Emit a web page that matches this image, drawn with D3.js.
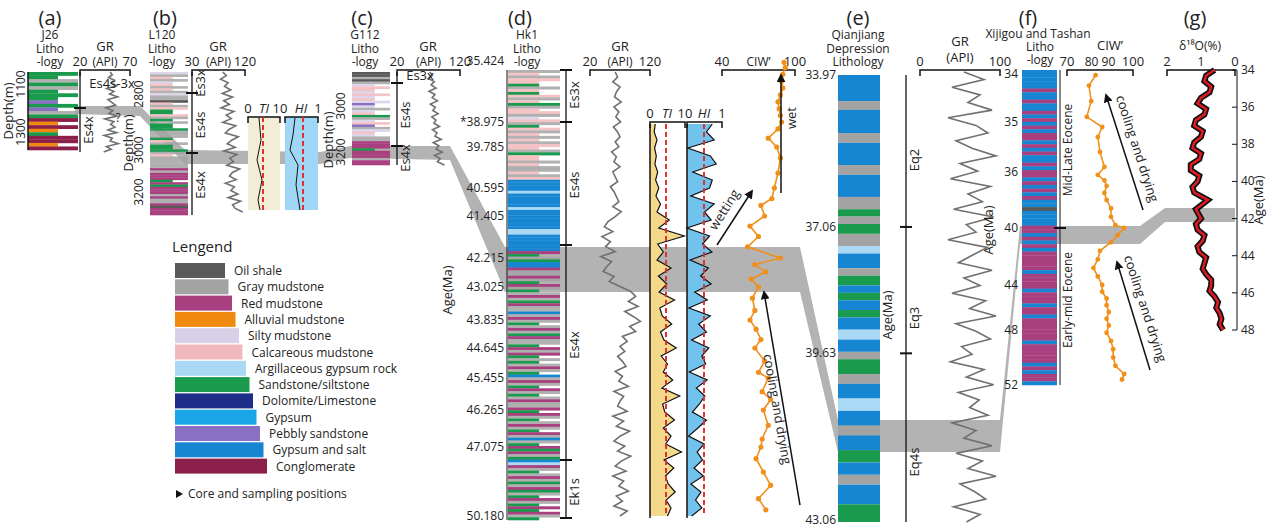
<!DOCTYPE html><html><head><meta charset="utf-8">
<script src="https://cdn.jsdelivr.net/npm/d3@7"></script>
<style>body{margin:0;background:#fff}text{font-family:"Open Sans","DejaVu Sans",sans-serif;fill:#222}</style></head><body>
<svg id="c" width="1269" height="530"></svg>
<script>
// ---------- DATA ----------
const lithoNames=["Oil shale","Gray mudstone","Red mudstone","Alluvial mudstone","Silty mudstone","Calcareous mudstone","Argillaceous gypsum rock","Sandstone/siltstone","Dolomite/Limestone","Gypsum","Pebbly sandstone","Gypsum and salt","Conglomerate"];
const lithoColors=["#595959","#a3a3a3","#a8407f","#f0890f","#d8d0e8","#f2b8bb","#a9d9f5","#1a9a4c","#1f2d8a","#1aa5e8","#8a70c2","#1786d2","#8c1f4a"];
const lithoA="77171777a7a17c3c37cc3c";
const lithoB="4151451514110515775171777111751777151111121222727222121120222";
const lithoC="0010145545454a41457145a1454112227222122";
const lithoD="1515571575157155145175151515517551511515bbbb6bbbbb6bbbbbbb66bbbbbb2717bb2112172171217211b1217121721172127171217b1217217121127217121721b1727217b621712171271721727217";
const lithoE=[[33.97,34.5,11],[34.5,34.68,1],[34.68,35.15,11],[35.15,35.35,1],[35.35,35.8,11],[35.8,36.0,1],[36.0,36.45,11],[36.45,36.7,1],[36.7,36.85,7],[36.85,37.0,1],[37.0,37.2,7],[37.2,37.45,1],[37.45,37.6,6],[37.6,37.9,11],[37.9,38.05,1],[38.05,38.25,7],[38.25,38.4,11],[38.4,38.55,7],[38.55,38.75,11],[38.75,38.9,7],[38.9,39.15,11],[39.15,39.35,6],[39.35,39.6,11],[39.6,39.75,1],[39.75,40.05,7],[40.05,40.25,1],[40.25,40.55,11],[40.55,40.8,6],[40.8,41.1,11],[41.1,41.3,1],[41.3,41.6,11],[41.6,41.85,7],[41.85,42.1,11],[42.1,42.3,1],[42.3,42.7,11],[42.7,43.06,7]];
const lithoF="bbbbb2bb2bb2b2b2b22b2b2bb2b22b2b2b2bb0bbbb22b2b2b22222b2222b222b22b222222b22222b2b22b";
const dAgeTicks=["35.424","*38.975","39.785","40.595","41.405","42.215","43.025","43.835","44.645","45.455","46.265","47.075","50.180"];
const eAgeTicks=["33.97","37.06","39.63","43.06"];
const fAgeTicks=[34,35,36,40,44,48,52];
const gAgeTicks=[34,36,38,40,42,44,46,48];
const grA=[48,52,45,56,50,60,42,55,47,62,44,51,58,40,53,46,61,38,55,49,57,44,60,37,52,48,63,41,50,36];
const grB=[70,78,65,82,74,88,69,92,72,85,66,95,78,89,70,99,84,76,105,90,80,98,72,102,86,94,79,108,92,85,100,76,96,88,104,82,110,92,98,115];
const grC=[62,70,58,75,66,80,60,77,69,84,64,78,71,86,68,80,74,90,70,83,77,95,72,88,80,98,76,92,84,104];
const grD=[62,66,58,70,64,61,72,60,68,63,71,59,66,70,62,68,56,64,60,70,58,62,66,54,60,64,68,58,72,62,50,44,58,40,54,46,62,38,56,48,42,60,52,70,88,96,84,100,78,92,104,86,96,74,82,70,78,66,74,80,62,74,68,84,60,76,70,66,82,58,76,64,86,70,60,78,66,88,72,62,80,58,76,68,84,64,74,60,82,70];
const grE=[55,80,40,75,60,90,35,70,85,45,65,95,50,72,38,88,60,78,42,92,58,70,35,84,66,48,90,55,75,40,82,62,95,45,70,88,52,65,38,80,58,92,48,74,62,85,40,70,55,90,45,78,60,95,50,68,82,42,75,58];
const tiD=[1.5,1.2,2.0,1.3,1.8,1.4,2.2,1.6,2.5,1.7,3.0,2.0,5.5,2.5,9.8,2.2,3.8,2.0,6.0,2.4,4.8,2.6,7.0,2.8,3.5,6.2,3.0,4.0,7.5,3.2,5.0,3.8,6.5,3.4,8.5,3.6,4.2,7.0,3.8,6.0,4.5,9.0,4.0,6.8,4.4,5.2,7.2,4.6,6.0,5.0];
const hiD=[3.5,5.0,3.0,9.8,4.0,2.5,8.5,3.5,4.2,9.0,3.0,5.5,3.8,10,4.2,6.0,3.6,9.2,4.5,6.5,3.8,8.0,4.8,9.5,4.0,7.0,5.0,8.8,4.4,6.2,5.2,9.4,4.8,7.6,5.4,6.8,8.6,5.0,7.2,9.6,5.6,7.4,6.0,8.2,5.8,9.0,6.4,7.8,6.2,8.8];
const ciwD=[[35.5,91],[35.8,92],[36.2,90],[36.6,89],[37.0,90],[37.4,88],[37.8,86],[38.2,87],[38.6,88],[38.975,89],[39.2,86],[39.5,78],[39.785,85],[40.0,88],[40.3,86],[40.595,83],[40.9,81],[41.1,72],[41.405,75],[41.6,63],[41.8,70],[42.0,61],[42.215,88],[42.4,67],[42.6,76],[42.8,64],[43.025,70],[43.3,65],[43.6,67],[43.835,63],[44.1,68],[44.4,72],[44.645,67],[45.0,75],[45.3,70],[45.455,78],[45.8,73],[46.0,80],[46.265,74],[46.6,78],[46.9,73],[47.075,72],[47.6,68],[48.2,74],[48.8,80],[49.4,70],[49.9,76]];
const ciwF=[[34.1,83],[34.3,80],[34.6,81],[34.9,79],[35.1,86],[35.3,84],[35.6,85],[35.9,87],[36.2,84],[36.6,87],[37.0,88],[37.5,87],[38.0,88],[38.6,90],[39.2,90],[39.8,92],[40.0,96],[40.5,93],[41.0,90],[41.6,85],[42.2,84],[42.8,82],[43.4,84],[44.0,86],[44.6,86],[45.2,88],[45.8,88],[46.4,89],[47.0,88],[47.6,89],[48.2,88],[48.8,90],[49.4,91],[50.0,91],[50.6,92],[51.2,96],[51.6,95]];
const d18O=[[34,0.6],[34.3,0.85],[34.6,0.9],[34.9,0.7],[35.2,0.75],[35.5,1.0],[35.8,1.1],[36.1,0.85],[36.4,0.9],[36.7,1.15],[37.0,1.2],[37.3,0.95],[37.6,1.0],[37.9,1.2],[38.2,1.25],[38.5,1.0],[38.8,1.05],[39.1,1.3],[39.4,1.3],[39.7,1.05],[40.0,1.1],[40.3,1.25],[40.6,1.2],[41.0,0.8],[41.5,1.15],[42.0,1.0],[42.3,1.15],[42.6,1.1],[42.9,0.9],[43.2,0.95],[43.5,1.1],[43.8,1.05],[44.1,0.85],[44.4,0.9],[44.7,0.95],[45.0,0.85],[45.3,0.7],[45.6,0.7],[45.9,0.75],[46.2,0.6],[46.5,0.5],[46.8,0.55],[47.1,0.45],[47.4,0.4],[47.7,0.45],[48,0.35]];

// ---------- DRAW ----------
const svg=d3.select("#c");
svg.append("defs").append("marker").attr("id","ah").attr("viewBox","0 0 10 10").attr("refX",8).attr("refY",5).attr("markerWidth",6).attr("markerHeight",6).attr("orient","auto").append("path").attr("d","M0,0L10,5L0,10Z").attr("fill","#111");
const T=(x,y,s,o={})=>{const t=svg.append("text").attr("x",x).attr("y",y).text(s).attr("font-size",o.fs||12).attr("text-anchor",o.a||"middle");if(o.r)t.attr("transform",`rotate(${o.r},${x},${y})`);if(o.it)t.attr("font-style","italic");return t;};
const code=c=>parseInt(c,16);
function litho(str,x0,x1,y0,y1,full){
  const y=d3.scaleLinear().domain([0,str.length]).range([y0,y1]);
  [...str].forEach((c,i)=>{const k=code(c);const w=(full||[11,9,6,2,12,0,1].includes(k)||i%3==0)?x1-x0:(x1-x0)*0.6;
    svg.append("rect").attr("x",x0).attr("y",y(i)).attr("width",w).attr("height",y(i+1)-y(i)+0.3).attr("fill",lithoColors[k]).attr("opacity",(k==1||k==5||k==4)?0.85:1);});
}
function gr(vals,x0,x1,d0,d1,y0,y1){
  const x=d3.scaleLinear().domain([d0,d1]).range([x0,x1]);
  const y=d3.scaleLinear().domain([0,vals.length-1]).range([y0,y1]);
  svg.append("path").attr("d",d3.line().x(v=>x(v)).y((v,i)=>y(i))(vals)).attr("fill","none").attr("stroke","#707070").attr("stroke-width",1.6);
}
function topAxis(x0,x1,y,l,m,r,fs){svg.append("path").attr("d",`M${x0},${y+6}V${y}H${x1}V${y+6}`).attr("stroke","#111").attr("fill","none").attr("stroke-width",1.5);
  T(x0,y-4,l,{fs:fs||13});T(x1,y-4,r,{fs:fs||13});if(m)T((x0+x1)/2,y-4,m,{fs:fs||12});}
function form(x,y0,y1,ticks,labels){svg.append("line").attr("x1",x).attr("x2",x).attr("y1",y0).attr("y2",y1).attr("stroke","#111").attr("stroke-width",1.3);
  ticks.forEach(t=>svg.append("line").attr("x1",x-6).attr("x2",x+6).attr("y1",t).attr("y2",t).attr("stroke","#111").attr("stroke-width",2));
  labels.forEach(l=>T(x+13,l[1],l[0],{fs:13,r:-90}));}
const band=(pts)=>svg.append("path").attr("d",d3.line()(pts)+"Z").attr("fill","#b3b3b3");
const hdr=(x,lines)=>lines.forEach((s,i)=>T(x,66-(lines.length-1-i)*13.5,s,{fs:12}));

band([[75,106],[140,106],[185,150],[320,152],[350,146],[450,146],[505,247],[505,292],[450,160],[350,158],[320,164],[185,164],[140,116],[75,114]]);
band([[505,247],[800,247],[838,420],[838,452],[800,292],[505,292]]);
band([[838,420],[1000,420],[1020,226],[1020,244],[1000,452],[838,452]]);
band([[1020,226],[1140,226],[1165,208],[1235,208],[1235,222],[1165,222],[1140,244],[1020,244]]);

[["(a)",50],["(b)",165],["(c)",362],["(d)",520],["(e)",858],["(f)",1028],["(g)",1195]].forEach(p=>T(p[1],25,p[0],{fs:20}));

// (a)
hdr(50,["J26","Litho","-logy"]);
litho(lithoA,28,78,72,150);
svg.append("line").attr("x1",28).attr("x2",28).attr("y1",72).attr("y2",150).attr("stroke","#111").attr("stroke-width",1.5);
T(13,111,"Depth(m)",{fs:13,r:-90});[["1100",84],["1300",132]].forEach(t=>T(25,t[1],t[0],{fs:12,r:-90}));
topAxis(80,130,70,"20","(API)","70");T(105,51,"GR",{fs:13});
gr(grA,95,122,20,70,72,152);
form(80,72,152,[108],[]);T(112,88,"Es4s-3x",{fs:13});T(93,130,"Es4x",{fs:13,r:-90});T(118,122,"?",{fs:12});

// (b)
hdr(162,["L120","Litho","-logy"]);
litho(lithoB,150,188,72,215);
T(133,143,"Depth(m)",{fs:13,r:-90});[["2800",94],["3000",150],["3200",192]].forEach(t=>T(143,t[1],t[0],{fs:12,r:-90}));
topAxis(192,245,70,"30","(API)","120");T(218,51,"GR",{fs:13});
gr(grB,205,245,30,120,72,212);
form(192,72,215,[93,153],[["Es3x",83],["Es4s",125],["Es4x",185]]);
svg.append("rect").attr("x",248).attr("y",117).attr("width",32).attr("height",93).attr("fill","#f3ecd6");
svg.append("rect").attr("x",285).attr("y",117).attr("width",33).attr("height",93).attr("fill","#9fd6f5");
topAxis(248,280,117,"0","","10");T(264,113,"TI",{fs:13,it:1});topAxis(285,318,117,"","","1");T(301,113,"HI",{fs:13,it:1});
[263,303].forEach(x=>svg.append("line").attr("x1",x).attr("x2",x).attr("y1",117).attr("y2",212).attr("stroke","#e03030").attr("stroke-width",2).attr("stroke-dasharray","5,3"));
svg.append("path").attr("d","M259,118 L261,140 L257,160 L262,180 L258,200 L260,210").attr("stroke","#111").attr("fill","none");
svg.append("path").attr("d","M295,118 L293,135 L290,150 L298,165 L296,185 L300,210").attr("stroke","#111").attr("fill","none");

// (c)
hdr(365,["G112","Litho","-logy"]);
litho(lithoC,352,390,72,165);
T(333,140,"Depth(m)",{fs:13,r:-90});[["3000",106],["3200",152]].forEach(t=>T(345,t[1],t[0],{fs:12,r:-90}));
topAxis(397,460,70,"20","(API)","120");T(428,51,"GR",{fs:13});
gr(grC,415,450,20,120,72,165);
form(397,72,165,[83,146],[["Es4s",115],["Es4x",158]]);T(420,80,"Es3x",{fs:13});

// (d)
hdr(527,["Hk1","Litho","-logy"]);
litho(lithoD,508,560,70,520);
const dPos=[61,122,147,188,216,258,287,320,348,378,410,447,516];
dAgeTicks.forEach((t,i)=>T(504,dPos[i]+4,t,{fs:12,a:"end"}));
svg.append("line").attr("x1",507).attr("x2",507).attr("y1",70).attr("y2",520).attr("stroke","#111");
T(452,290,"Age(Ma)",{fs:13,r:-90});
form(566,70,518,[70,122,245,460,518],[["Es3x",95],["Es4s",185],["Es4x",345],["Ek1s",492]]);
topAxis(590,650,70,"20","(API)","120");T(620,51,"GR",{fs:13});
gr(grD,590,650,20,120,72,516);
const yTH=d3.scaleLinear().domain([0,tiD.length-1]).range([124,516]);
const xTI=d3.scaleLinear().domain([0,10]).range([650,685]);
const xHI=d3.scaleLinear().domain([10,1]).range([687,722]);
svg.append("path").attr("d",d3.area().x0(650).x1(v=>xTI(v)).y((v,i)=>yTH(i))(tiD)).attr("fill","#f5d98b");
svg.append("path").attr("d",d3.area().x0(687).x1(v=>xHI(v)).y((v,i)=>yTH(i))(hiD)).attr("fill","#72c2ee");
svg.append("path").attr("d",d3.line().x(v=>xTI(v)).y((v,i)=>yTH(i))(tiD)).attr("fill","none").attr("stroke","#111").attr("stroke-width",1.2);
svg.append("path").attr("d",d3.line().x(v=>xHI(v)).y((v,i)=>yTH(i))(hiD)).attr("fill","none").attr("stroke","#111").attr("stroke-width",1.2);
[650,687].forEach(x=>svg.append("line").attr("x1",x).attr("x2",x).attr("y1",124).attr("y2",518).attr("stroke","#111").attr("stroke-width",1.5));
[666,704].forEach(x=>svg.append("line").attr("x1",x).attr("x2",x).attr("y1",124).attr("y2",516).attr("stroke","#e03030").attr("stroke-width",2).attr("stroke-dasharray","5,3"));
topAxis(650,685,122,"0","","10");T(667,118,"TI",{fs:13,it:1});topAxis(687,722,122,"","","1");T(704,118,"HI",{fs:13,it:1});
const ageD=d3.scaleLinear().domain([35.424,38.975,39.785,40.595,41.405,42.215,43.025,43.835,44.645,45.455,46.265,47.075,50.18]).range(dPos);
const xCd=d3.scaleLinear().domain([40,100]).range([722,795]);
topAxis(722,795,70,"40","CIW’","100");
svg.append("path").attr("d",d3.line().x(d=>xCd(d[1])).y(d=>ageD(d[0]))(ciwD)).attr("fill","none").attr("stroke","#f0901a").attr("stroke-width",1.6);
svg.selectAll(null).data(ciwD).enter().append("circle").attr("cx",d=>xCd(d[1])).attr("cy",d=>ageD(d[0])).attr("r",2.6).attr("fill","#f0901a");
const arrow=(x1,y1,x2,y2)=>svg.append("line").attr("x1",x1).attr("y1",y1).attr("x2",x2).attr("y2",y2).attr("stroke","#111").attr("stroke-width",1.5).attr("marker-end","url(#ah)");
arrow(781,193,781,75);T(796,118,"wet",{fs:13,r:-90});
arrow(717,245,752,191);T(728,212,"wetting",{fs:13,r:-58});
arrow(800,505,764,292);T(773,410,"cooling and drying",{fs:13,r:80});

// (e)
hdr(858,["Qianjiang","Depression","Lithology"]);
const ye=d3.scaleLinear().domain([33.97,43.06]).range([75,522]);
lithoE.forEach(l=>svg.append("rect").attr("x",838).attr("y",ye(l[0])).attr("width",42).attr("height",ye(l[1])-ye(l[0])).attr("fill",lithoColors[l[2]]));
eAgeTicks.forEach((t,i)=>T(836,ye(+t)+(i==3?2:4),t,{fs:12,a:"end"}));
T(892,315,"Age(Ma)",{fs:13,r:-90});
form(906,75,522,[ye(37.06),ye(39.63)],[["Eq2",160],["Eq3",318],["Eq4s",462]]);
topAxis(920,1000,70,"0","","100");T(960,46,"GR",{fs:13});T(960,62,"(API)",{fs:13});
gr(grE,920,1000,0,100,72,522);

// (f)
T(1038,38,"Xijigou and Tashan",{fs:12});T(1040,51,"Litho",{fs:12});T(1040,64,"-logy",{fs:12});
litho(lithoF,1022,1057,70,385,true);
const fPos=[70,122,172,228,285,330,385];
fAgeTicks.forEach((t,i)=>T(1018,fPos[i]+(i==0?8:4),t,{fs:12,a:"end"}));
T(993,230,"Age(Ma)",{fs:13,r:-90});
svg.append("line").attr("x1",1060).attr("x2",1060).attr("y1",70).attr("y2",385).attr("stroke","#111");
svg.append("line").attr("x1",1054).attr("x2",1066).attr("y1",228).attr("y2",228).attr("stroke","#111").attr("stroke-width",2);
T(1072,150,"Mid-Late  Eocene",{fs:12,r:-90});T(1072,300,"Early-mid  Eocene",{fs:12,r:-90});
const ageF=d3.scaleLinear().domain(fAgeTicks).range(fPos);
const xCf=d3.scaleLinear().domain([70,100]).range([1067,1133]);
topAxis(1067,1133,70,"70","80   90","100");T(1110,50,"CIW’",{fs:13});
svg.append("path").attr("d",d3.line().x(d=>xCf(d[1])).y(d=>ageF(d[0]))(ciwF)).attr("fill","none").attr("stroke","#f0901a").attr("stroke-width",1.6);
svg.selectAll(null).data(ciwF).enter().append("circle").attr("cx",d=>xCf(d[1])).attr("cy",d=>ageF(d[0])).attr("r",2.4).attr("fill","#f0901a");
arrow(1143,210,1106,95);T(1133,150,"cooling and drying",{fs:13,r:72});
arrow(1150,370,1117,262);T(1141,310,"cooling and drying",{fs:13,r:72});

// (g)
const yG=d3.scaleLinear().domain([34,48]).range([70,330]);
const xG=d3.scaleLinear().domain([2,0]).range([1167,1235]);
topAxis(1167,1235,70,"2","1","0");T(1200,50,"δ¹⁸O(%)",{fs:12});
svg.append("path").attr("d",d3.line().x(d=>xG(d[1])).y(d=>yG(d[0]))(d18O)).attr("fill","none").attr("stroke","#111").attr("stroke-width",6);
svg.append("path").attr("d",d3.line().x(d=>xG(d[1])).y(d=>yG(d[0]))(d18O)).attr("fill","none").attr("stroke","#e01a22").attr("stroke-width",2.5);
svg.append("line").attr("x1",1237).attr("x2",1237).attr("y1",70).attr("y2",330).attr("stroke","#111");
gAgeTicks.forEach(t=>{svg.append("line").attr("x1",1237).attr("x2",1232).attr("y1",yG(t)).attr("y2",yG(t)).attr("stroke","#111");T(1241,yG(t)+4,t,{fs:12,a:"start"});});
T(1263,200,"Age(Ma)",{fs:13,r:-90});

// legend
T(172,252,"Lengend",{fs:15,a:"start"});
lithoNames.forEach((n,i)=>{const y=263+i*16.3;svg.append("rect").attr("x",175).attr("y",y).attr("width",50+i*3.5).attr("height",15).attr("fill",lithoColors[i]);
  T(230+i*3.5+4,y+12,n,{fs:12,a:"start"});});
svg.append("path").attr("d","M176,490 l7,4 l-7,4Z").attr("fill","#111");T(188,498,"Core and sampling positions",{fs:12,a:"start"});
</script></body></html>
